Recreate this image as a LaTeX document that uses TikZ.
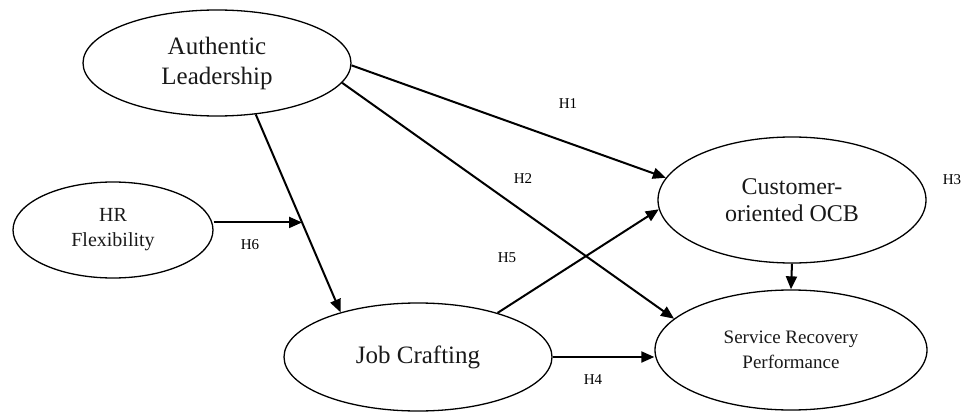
\documentclass[tikz,border=0pt]{standalone}
\usepackage{fontspec}
\setmainfont{Liberation Serif}
\usetikzlibrary{shapes.geometric,arrows.meta}

\tikzset{
  construct/.style={draw, ellipse, line width=1.3pt, inner sep=0pt, align=center, text=black!90},
  link/.style={line width=2pt, -{Triangle[length=13pt,width=11pt]}},
  hyp/.style={font=\fontsize{15}{18}\selectfont, inner sep=0pt}
}

\begin{document}
\begin{tikzpicture}[x=1pt, y=-1pt]
  \useasboundingbox (0,0) rectangle (962,412);

  % constructs
  \node[construct, minimum width=268pt, minimum height=106pt,
        font=\fontsize{25}{30}\selectfont] (AL) at (217,63) {Authentic\\Leadership};
  \node[construct, minimum width=200pt, minimum height=96pt,
        font=\fontsize{20}{25}\selectfont] (HR) at (113,230) {HR\\Flexibility};
  \node[construct, minimum width=268pt, minimum height=108pt,
        font=\fontsize{25}{30}\selectfont] (JC) at (418,357) {Job Crafting};
  \node[construct, minimum width=268pt, minimum height=126pt,
        font=\fontsize{24}{27}\selectfont] (OCB) at (792,200) {Customer-\\oriented OCB};
  \node[construct, minimum width=272pt, minimum height=120pt,
        font=\fontsize{19}{25}\selectfont] (SRP) at (791,350) {Service Recovery\\Performance};

  % paths between constructs
  \draw[link] (AL.-1) -- (OCB.170);
  \draw[link] (AL.-9) -- (SRP.165);
  \draw[link] (AL.-53.5) -- coordinate[pos=0.546] (mod) (JC.150);
  \draw[link] (mod -| HR.east) -- (mod);
  \draw[link] (JC.29) -- (OCB.184);
  \draw[link] (JC.east) -- (JC.east -| SRP.west);
  \draw[link] (OCB.south) -- (SRP.north);

  % hypothesis labels
  \node[hyp] (h1) at (568,104) {H1};
  \node[hyp] (h2) at (523,179) {H2};
  \node[hyp] (h3) at (952,180) {H3};
  \node[hyp] (h4) at (593,380) {H4};
  \node[hyp] (h5) at (507,258) {H5};
  \node[hyp] (h6) at (250,245) {H6};
\end{tikzpicture}
\end{document}
